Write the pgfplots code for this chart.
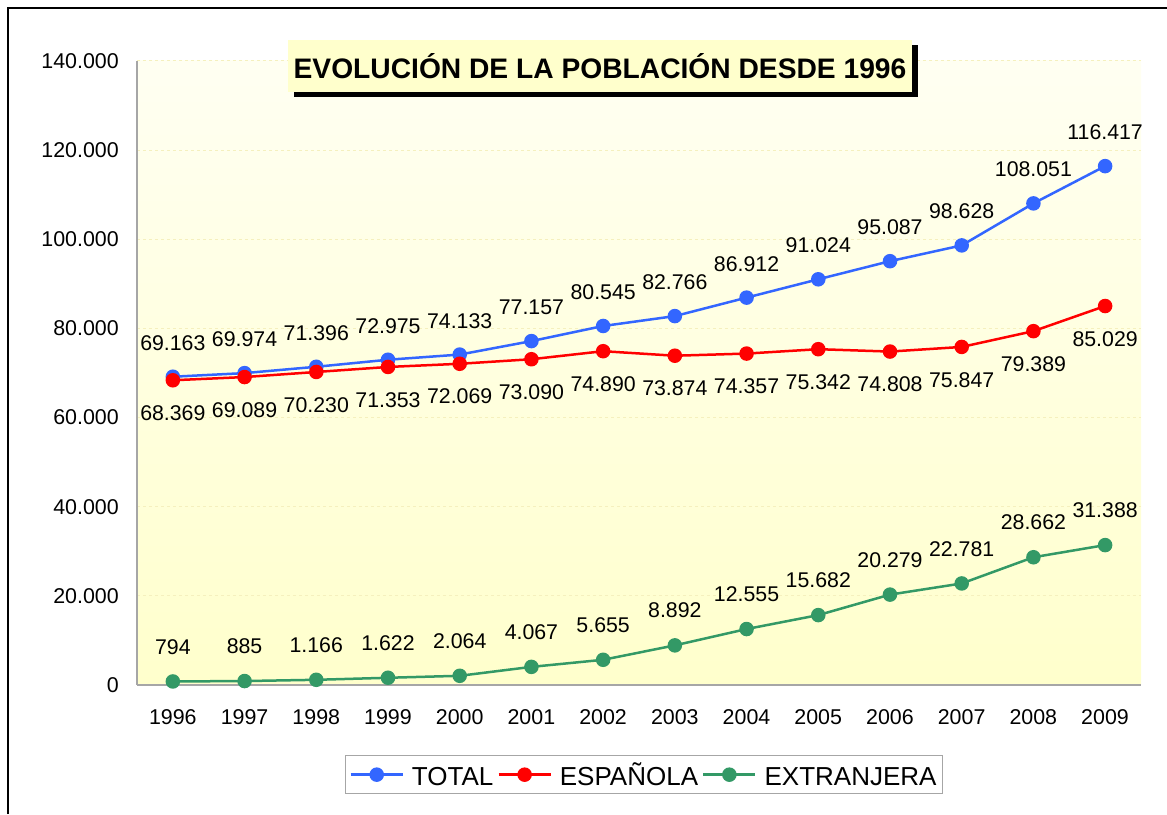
\documentclass[border=0pt]{standalone}
\usepackage{pgfplots}
\pgfplotsset{compat=1.18}
\usepackage{fontspec}
\setmainfont{Liberation Sans}
\definecolor{cblue}{RGB}{51,102,255}
\definecolor{cred}{RGB}{255,0,0}
\definecolor{cgreen}{RGB}{51,153,102}
\definecolor{bgtop}{RGB}{255,255,242}
\definecolor{bgbot}{RGB}{255,255,204}
\definecolor{gridc}{RGB}{245,240,190}
\newcommand{\lph}{\vphantom{ÑJ}}
\begin{document}
\begin{tikzpicture}[x=1pt,y=1pt]
\useasboundingbox (0,0) rectangle (1167,814);
\draw[line width=2.5pt] (8,0) -- (8,806) -- (1167,806);
\shade[top color=bgtop, bottom color=bgbot] (137,129) rectangle (1141,753);
\begin{axis}[
  at={(137pt,129pt)}, anchor=south west, scale only axis,
  width=1004pt, height=624pt,
  xmin=1995.5, xmax=2009.5, ymin=0, ymax=140000,
  scaled y ticks=false,
  axis x line*=bottom, axis y line*=left,
  axis line style={-, draw=gray!70, line width=1.2pt},
  major tick length=0pt,
  xtick={1996,...,2009},
  xticklabels={1996,1997,1998,1999,2000,2001,2002,2003,2004,2005,2006,2007,2008,2009},
  ytick={0,20000,40000,60000,80000,100000,120000,140000},
  yticklabels={0,20.000,40.000,60.000,80.000,100.000,120.000,140.000},
  ymajorgrids, grid style={dashed, gridc, line width=1pt},
  tick label style={font=\fontsize{21.4}{25}\selectfont, inner sep=0pt},
  xticklabel style={yshift=-24pt},
  yticklabel style={xshift=-18pt},
  clip=false,
  legend style={at={(axis description cs:0.505,0)}, anchor=north, yshift=-70pt,
    legend columns=3, draw=gray!70, line width=1pt, font=\fontsize{26}{30}\selectfont,
    inner xsep=4pt, inner ysep=5pt,
    /tikz/every odd column/.append style={column sep=6pt},
    /tikz/every even column/.append style={column sep=2pt}},
  legend image code/.code={\draw[mark repeat=2,mark phase=2,#1] plot coordinates {(0pt,0pt) (26pt,0pt) (52pt,0pt)};},
  every axis plot/.append style={line width=2.5pt, mark=*, mark size=6pt, mark options={solid}},
  nodes near coords={\pgfplotspointmeta},
  point meta=explicit symbolic,
  every node near coord/.append style={font=\fontsize{21.3}{25}\selectfont, inner sep=0pt, black},
]
\addplot[cblue, nodes near coords, every node near coord/.append style={anchor=south, yshift=25pt}] table[x=x,y=y,meta=l] {
x y l
1996 69163 69.163
1997 69974 69.974
1998 71396 71.396
1999 72975 72.975
2000 74133 74.133
2001 77157 77.157
2002 80545 80.545
2003 82766 82.766
2004 86912 86.912
2005 91024 91.024
2006 95087 95.087
2007 98628 98.628
2008 108051 108.051
2009 116417 116.417
};
\addlegendentry{\lph TOTAL}
\addplot[cred, nodes near coords, every node near coord/.append style={anchor=north, yshift=-24pt}] table[x=x,y=y,meta=l] {
x y l
1996 68369 68.369
1997 69089 69.089
1998 70230 70.230
1999 71353 71.353
2000 72069 72.069
2001 73090 73.090
2002 74890 74.890
2003 73874 73.874
2004 74357 74.357
2005 75342 75.342
2006 74808 74.808
2007 75847 75.847
2008 79389 79.389
2009 85029 85.029
};
\addlegendentry{\lph ESPAÑOLA}
\addplot[cgreen, nodes near coords, every node near coord/.append style={anchor=south, yshift=26pt}] table[x=x,y=y,meta=l] {
x y l
1996 794 794
1997 885 885
1998 1166 1.166
1999 1622 1.622
2000 2064 2.064
2001 4067 4.067
2002 5655 5.655
2003 8892 8.892
2004 12555 12.555
2005 15682 15.682
2006 20279 20.279
2007 22781 22.781
2008 28662 28.662
2009 31388 31.388
};
\addlegendentry{\lph EXTRANJERA}
\end{axis}
\node[fill=black, minimum width=624pt, minimum height=52pt, inner sep=0pt] at (606,743) {};
\node[fill=bgbot, minimum width=624pt, minimum height=52pt, inner sep=0pt, font=\bfseries\fontsize{28.2}{32}\selectfont] at (600,748) {EVOLUCIÓN DE LA POBLACIÓN DESDE 1996};
\end{tikzpicture}
\end{document}
